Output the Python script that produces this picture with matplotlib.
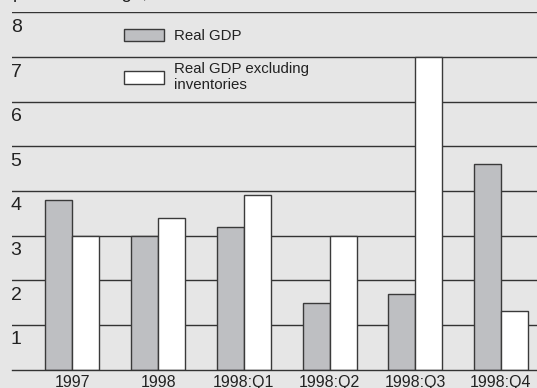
#!/usr/bin/env python3
"""
Real GDP growth vs real GDP excluding inventories, grouped bars
"""

import matplotlib
matplotlib.use("Agg")
import matplotlib.pyplot as plt
from matplotlib.transforms import ScaledTranslation

periods = ["1997", "1998", "1998:Q1", "1998:Q2", "1998:Q3", "1998:Q4"]
real_gdp = [3.8, 3.0, 3.2, 1.5, 1.7, 4.6]
real_gdp_ex_inv = [3.0, 3.4, 3.9, 3.0, 7.0, 1.3]
series_names = ["Real GDP", "Real GDP excluding\ninventories"]
y_ticks = [1, 2, 3, 4, 5, 6, 7, 8]
unit_label = "percent change, annual rate"

bg_color = "#e6e6e6"
gray_color = "#bebfc2"
edge_color = "#3a3a3a"
bar_width = 0.315


def main():
    plt.rcParams["font.family"] = ["Liberation Sans", "DejaVu Sans"]
    fig = plt.figure(figsize=(5.37, 3.88), dpi=100, facecolor=bg_color)
    # axes: left edge of the grid lines to the right border, baseline to the 8 line
    base_y, top_y, left_x = 369.5, 12.4, 12.3
    ax = fig.add_axes([left_x / 537, (388 - base_y) / 388,
                       (537 - left_x) / 537, (base_y - top_y) / 388])
    ax.set_facecolor(bg_color)

    xpos = list(range(len(periods)))
    b1 = ax.bar([x - bar_width / 2 for x in xpos], real_gdp, width=bar_width,
                color=gray_color, edgecolor=edge_color, linewidth=1.0, zorder=3)
    b2 = ax.bar([x + bar_width / 2 for x in xpos], real_gdp_ex_inv, width=bar_width,
                color="white", edgecolor=edge_color, linewidth=1.0, zorder=3)

    ax.set_xlim(-0.702, 5.421)
    ax.set_ylim(0, 8)

    ax.set_yticks(y_ticks, labels=[str(v) for v in y_ticks])
    ax.tick_params(axis="y", length=0, pad=1.2, labelsize=14, labelcolor="#222222")
    # labels sit just under their grid line, flush left
    shift = ScaledTranslation(0, -0.195, fig.dpi_scale_trans)
    for lab in ax.get_yticklabels():
        lab.set_horizontalalignment("left")
        lab.set_verticalalignment("baseline")
        lab.set_transform(lab.get_transform() + shift)
    ax.yaxis.grid(True, color="#333333", linewidth=1.0)
    ax.set_axisbelow(True)

    ax.set_xticks(xpos, labels=periods)
    ax.tick_params(axis="x", length=0, pad=4, labelsize=11.5, labelcolor="#222222")

    for side in ["left", "right", "top"]:
        ax.spines[side].set_visible(False)
    ax.spines["bottom"].set_color("#333333")
    ax.spines["bottom"].set_linewidth(1.0)
    ax.spines["bottom"].set_zorder(4)

    leg = ax.legend([b1, b2], series_names, loc="upper left",
                    bbox_to_anchor=(124 / 537, 1 - 28.7 / 388),
                    bbox_transform=fig.transFigure, frameon=False, fontsize=10.8,
                    handlelength=2.67, handleheight=0.93, handletextpad=0.65,
                    borderpad=0, borderaxespad=0, labelspacing=1.25)
    for t in leg.get_texts():
        t.set_color("#222222")

    # unit label, mostly cut off by the top border
    fig.text(13 / 537, 1 + 2.5 / 388, unit_label, va="baseline", ha="left",
             fontsize=13.5, color="#222222")

    fig.savefig("out.png", dpi=100, facecolor=bg_color)


if __name__ == "__main__":
    main()
